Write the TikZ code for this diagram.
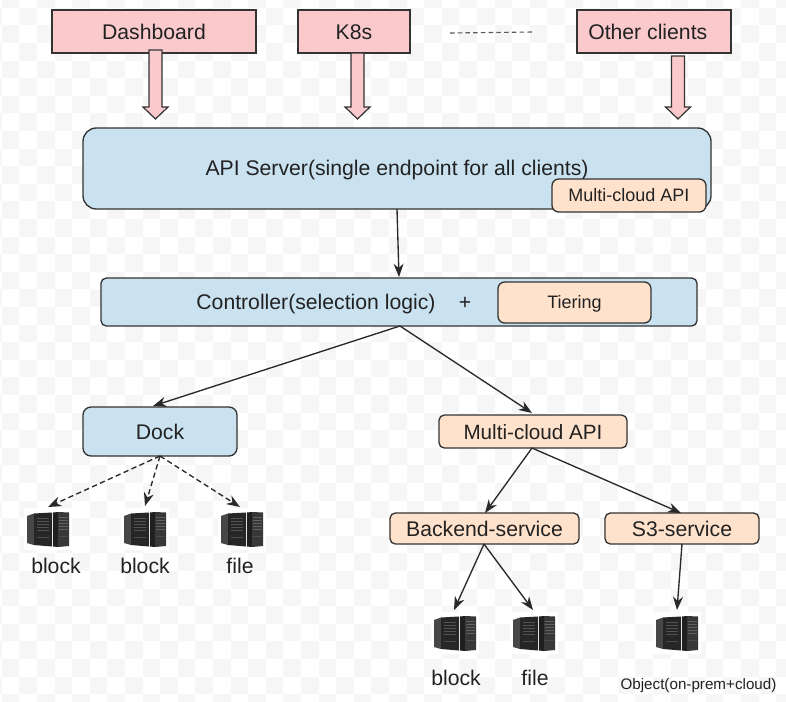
\documentclass[tikz,border=0pt]{standalone}
\usepackage{fontspec}
\setmainfont{Liberation Sans}
\usetikzlibrary{arrows.meta,calc}
\definecolor{pinkf}{HTML}{F9C9CC}
\definecolor{bluef}{HTML}{CAE2F0}
\definecolor{peachf}{HTML}{FFE2CC}
\definecolor{edgec}{HTML}{333333}
\definecolor{txt}{HTML}{222222}
\definecolor{chk}{HTML}{F6F6F6}
\tikzset{
  box/.style={draw=edgec,line width=1pt,text=txt,inner sep=0pt,outer sep=0pt,anchor=north west,text height=11.4pt,text depth=0pt,font=\fontsize{15.9}{18}\selectfont},
  client/.style={box,fill=pinkf},
  bluebox/.style={box,fill=bluef},
  peachbox/.style={box,fill=peachf},
  smalltext/.style={text height=9.7pt,font=\fontsize{13.5}{16}\selectfont},
  lbl/.style={text=txt,inner sep=0pt,text height=11.4pt,text depth=0pt,font=\fontsize{15.9}{18}\selectfont},
  link/.style={draw=edgec!80!black,line width=1pt,-{Stealth[length=10pt,width=7.5pt]}},
  dlink/.style={link,dash pattern=on 4pt off 2.5pt},
  fat/.style={draw=edgec,line width=0.9pt,fill=pinkf,line join=miter},
  srv/.style={inner sep=0pt,minimum width=31.5pt,minimum height=27pt,anchor=north west},
}
\newcommand{\fatarrow}[3]{% centre x, top y, tip y
  \draw[fat] (#1-6.5,#2) -- (#1+6.5,#2) -- (#1+6.5,#3-12) -- (#1+12.5,#3-12) -- (#1,#3) -- (#1-12.5,#3-12) -- (#1-6.5,#3-12) -- cycle;}
\newcommand{\servericon}[2]{% left x, top y
  \begin{scope}[shift={(#1,#2)}]
    \fill[white] (-3,-4) rectangle (45,38);
    \fill[black!72] (0,4) -- (7,1.5) -- (7,33) -- (0,31) -- cycle;
    \fill[black!85] (7,1.5) -- (25,0.5) -- (25,34.5) -- (7,33) -- cycle;
    \fill[black!88] (26,0.5) -- (31,0) -- (31,35) -- (26,34.5) -- cycle;
    \fill[black!78] (31,0) -- (42,0.5) -- (42,34) -- (31,35) -- cycle;
    \foreach \yy in {6,9,12,15,18}{
      \draw[black!68,line width=0.7pt] (10,\yy) -- (22,\yy);
      \draw[black!62,line width=0.7pt] (32,\yy-1) -- (41,\yy-1);
    }
    \draw[black!70,line width=0.6pt] (10,25) -- (22,25) (32,24) -- (41,24);
  \end{scope}}
\begin{document}
\begin{tikzpicture}[x=0.75pt,y=-0.75pt]
\useasboundingbox (0,0) rectangle (786,701);
\fill[white] (0,0) rectangle (786,701);
\begin{scope}
\clip (0,0) rectangle (786,701);
\foreach \i in {0,...,46}{\foreach \j in {0,...,41}{
  \pgfmathparse{int(mod(\i+\j,2))}
  \ifnum\pgfmathresult=1
    \fill[chk] ({\i*17.6-15.9},{\j*17.6-9.8}) rectangle ++(17.6,17.6);
  \fi}}
\end{scope}

% clients
\node[client,minimum width=153pt,minimum height=32.25pt] (dash) at (52,10) {Dashboard};
\node[client,minimum width=84pt,minimum height=32.25pt] (k8s) at (298,10) {K8s};
\node[client,minimum width=115.5pt,minimum height=32.25pt] (other) at (577,10) {};
\node[lbl,anchor=west] (otherl) at (588,32) {Other clients};
\coordinate (dl) at (450,33);
\coordinate (dr) at (534,32);
\draw[black!65,line width=0.85pt,dash pattern=on 3.4pt off 2.4pt] (dl) -- (dr);

\fatarrow{155.5}{50}{119}
\fatarrow{357.5}{53}{119}
\fatarrow{678}{56}{119}

% API server
\node[bluebox,rounded corners=10pt,minimum width=471pt,minimum height=60.75pt] (api) at (83,128) {};
\node[lbl] (apil) at (397,168) {API Server(single endpoint for all clients)};
\node[peachbox,smalltext,rounded corners=5pt,minimum width=115.5pt,minimum height=24.75pt] (mcs) at (552,179) {Multi-cloud API};

% controller
\node[bluebox,rounded corners=4pt,minimum width=447pt,minimum height=36pt] (ctl) at (101,278) {};
\node[lbl] (ctll) at (316,302) {Controller(selection logic)};
\node[lbl] (plus) at (465,302) {+};
\node[peachbox,smalltext,rounded corners=5pt,minimum width=114.75pt,minimum height=30.75pt] (tier) at (498,282) {Tiering};

% second level
\node[bluebox,rounded corners=6pt,minimum width=115.5pt,minimum height=36.75pt] (dock) at (83,407) {Dock};
\node[peachbox,rounded corners=4pt,minimum width=141pt,minimum height=24.75pt,font=\fontsize{15.5}{18}\selectfont] (mc) at (439,415) {Multi-cloud API};
\node[peachbox,rounded corners=4pt,minimum width=141.75pt,minimum height=23.25pt] (be) at (390,513) {Backend-service};
\node[peachbox,rounded corners=4pt,minimum width=115.5pt,minimum height=23.25pt] (s3) at (605,513) {S3-service};

% servers
\servericon{27}{512}\node[srv] (s1) at (27,511) {};
\servericon{124}{512}\node[srv] (s2) at (124,511) {};
\servericon{221}{512}\node[srv] (s3a) at (221,511) {};
\servericon{434}{616}\node[srv] (s4) at (434,615) {};
\servericon{513}{616}\node[srv] (s5) at (513,615) {};
\servericon{656}{616}\node[srv] (s6) at (656,615) {};

\node[lbl] (l1) at (56,566) {block};
\node[lbl] (l2) at (145,566) {block};
\node[lbl] (l3) at (240,566) {file};
\node[lbl] (l4) at (456,678) {block};
\node[lbl] (l5) at (535,678) {file};
\node[lbl,text height=8.2pt,font=\fontsize{11.4}{14}\selectfont] (l6) at (698.5,684) {Object(on-prem+cloud)};

% connectors
\draw[link] (397,209) -- (399,277);
\draw[link] (400,326) -- (153,406);
\draw[link] (400,326) -- (532,413);
\draw[dlink] (160,456) -- (48,507);
\draw[dlink] (160,456) -- (145,506);
\draw[dlink] (160,456) -- (240,507);
\draw[link] (532,448) -- (485,513);
\draw[link] (532,448) -- (681,513);
\draw[link] (484,544) -- (454,610);
\draw[link] (484,544) -- (533,610);
\draw[link] (682,544) -- (677,610);
\end{tikzpicture}
\end{document}
